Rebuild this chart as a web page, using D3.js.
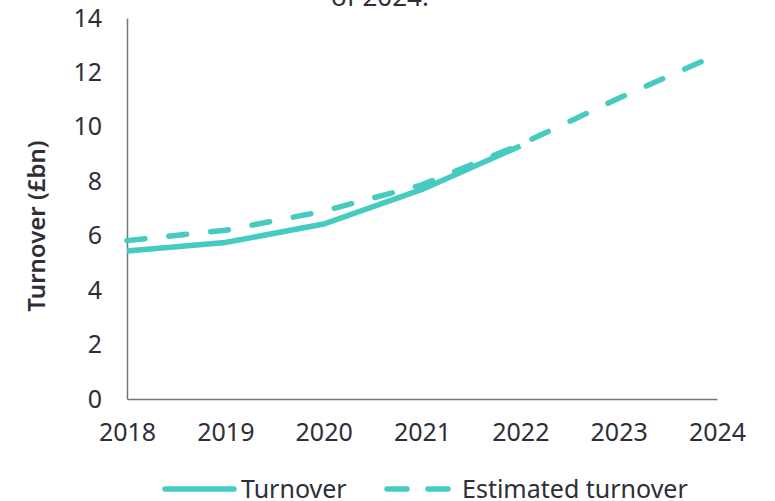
<!DOCTYPE html>
<html>
<head>
<meta charset="utf-8">
<script src="https://cdn.jsdelivr.net/npm/d3@7"></script>
<style>
  body { margin: 0; background: #fff; }
  text { font-family: "Noto Sans", sans-serif; fill: #2e2e38; }
</style>
</head>
<body>
<div id="chart"></div>
<script>
const years = [2018, 2019, 2020, 2021, 2022, 2023, 2024]
const turnover = [5.44, 5.75, 6.43, 7.7, 9.3]
const estimated = [5.82, 6.2, 6.9, 7.87, 9.35, 11.05, 12.65]
const yTicks = [0, 2, 4, 6, 8, 10, 12, 14]

const width = 775
const height = 501
const color = '#45cbc0'
const fontSize = 25

const x = d3.scaleLinear()
  .domain([2018, 2024])
  .range([127, 717])

const y = d3.scaleLinear()
  .domain([0, 14])
  .range([399, 18])

const svg = d3.select('#chart').append('svg')
  .attr('width', width)
  .attr('height', height)

// bottom of a title line that sits above the chart
svg.append('text')
  .attr('x', 380)
  .attr('y', 6)
  .attr('text-anchor', 'middle')
  .attr('font-size', 26)
  .text('of 2024.')

const yAxis = svg.append('g')
  .attr('transform', 'translate(127,0)')
  .call(d3.axisLeft(y).tickValues(yTicks).tickSize(0).tickPadding(25))
yAxis.select('.domain').attr('stroke', '#747480').attr('stroke-width', 1.5)
yAxis.selectAll('text').attr('font-size', fontSize).attr('fill', '#2e2e38').attr('font-family', 'Noto Sans')

const xAxis = svg.append('g')
  .attr('transform', 'translate(0,399)')
  .call(d3.axisBottom(x).tickValues(years).tickFormat(d3.format('d')).tickSize(0).tickPadding(24))
xAxis.select('.domain').attr('stroke', '#747480').attr('stroke-width', 1.5)
xAxis.selectAll('text').attr('font-size', fontSize).attr('fill', '#2e2e38').attr('font-family', 'Noto Sans')

svg.append('text')
  .attr('transform', 'translate(45,226) rotate(-90)')
  .attr('text-anchor', 'middle')
  .attr('font-size', 24)
  .attr('font-weight', 600)
  .text('Turnover (£bn)')

const line = d3.line()
  .x((d, i) => x(years[i]))
  .y(d => y(d))

svg.append('path')
  .datum(estimated)
  .attr('d', line)
  .attr('fill', 'none')
  .attr('stroke', color)
  .attr('stroke-width', 5.5)
  .attr('stroke-linecap', 'round')
  .attr('stroke-dasharray', '18,24')

svg.append('path')
  .datum(turnover)
  .attr('d', line)
  .attr('fill', 'none')
  .attr('stroke', color)
  .attr('stroke-width', 5.5)

// legend
const legend = svg.append('g').attr('transform', 'translate(0,489)')
legend.append('line')
  .attr('x1', 165).attr('x2', 234)
  .attr('stroke', color).attr('stroke-width', 5.5).attr('stroke-linecap', 'round')
legend.append('text')
  .attr('x', 241).attr('y', 9)
  .attr('font-size', fontSize)
  .text('Turnover')
legend.append('line')
  .attr('x1', 387).attr('x2', 449)
  .attr('stroke', color).attr('stroke-width', 5.5).attr('stroke-linecap', 'round')
  .attr('stroke-dasharray', '20,21')
legend.append('text')
  .attr('x', 462).attr('y', 9)
  .attr('font-size', fontSize)
  .text('Estimated turnover')
</script>
</body>
</html>
